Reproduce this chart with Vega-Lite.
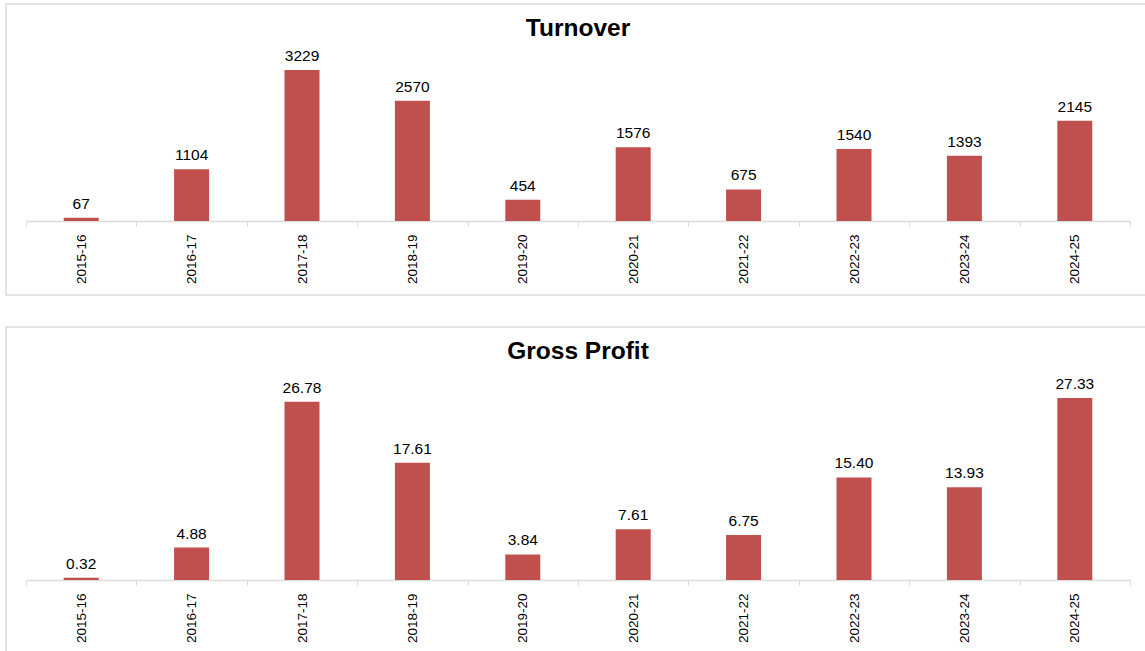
{
"$schema":"https://vega.github.io/schema/vega-lite/v6.json",
"padding":{"left":-2,"top":3,"right":0,"bottom":0},
"background":"white",
"spacing":30,
"config":{"view":{"stroke":"#dcdcdc","strokeWidth":1.5},"concat":{"spacing":30}},
"datasets":{
"turnover":[{"year":"2015-16","value":67},{"year":"2016-17","value":1104},{"year":"2017-18","value":3229},{"year":"2018-19","value":2570},{"year":"2019-20","value":454},{"year":"2020-21","value":1576},{"year":"2021-22","value":675},{"year":"2022-23","value":1540},{"year":"2023-24","value":1393},{"year":"2024-25","value":2145}],
"profit":[{"year":"2015-16","value":0.32},{"year":"2016-17","value":4.88},{"year":"2017-18","value":26.78},{"year":"2018-19","value":17.61},{"year":"2019-20","value":3.84},{"year":"2020-21","value":7.61},{"year":"2021-22","value":6.75},{"year":"2022-23","value":15.40},{"year":"2023-24","value":13.93},{"year":"2024-25","value":27.33}]
},
"vconcat":[
{"width":1144,"height":291,
"title":{"text":"Turnover","font":"Liberation Sans","fontSize":24.5,"fontWeight":"bold","color":"#000","anchor":"middle","frame":"group","baseline":"top","offset":-37},
"data":{"name":"turnover"},
"encoding":{
"x":{"field":"year","type":"nominal","sort":null,"scale":{"type":"band","range":[20,1124],"paddingInner":0,"paddingOuter":0},
"axis":{"title":null,"offset":-74,"labelAngle":270,"labelFont":"Liberation Sans","labelFontSize":13.5,"labelColor":"#000","labelPadding":8,"domainColor":"#dcdcdc","domainWidth":1.5,"tickColor":"#dcdcdc","tickSize":5,"tickBand":"extent","grid":false}},
"y":{"field":"value","type":"quantitative","scale":{"domain":[0,3229],"range":[217,66],"nice":false,"zero":true},"axis":null}
},
"layer":[
{"mark":{"type":"bar","color":"#C0504D","size":35}},
{"mark":{"type":"text","font":"Liberation Sans","fontSize":15.5,"color":"#000","baseline":"bottom","dy":-6},"encoding":{"text":{"field":"value","type":"quantitative","format":"d"}}}
]},
{"width":1144,"height":325,
"title":{"text":"Gross Profit","font":"Liberation Sans","fontSize":24.5,"fontWeight":"bold","color":"#000","anchor":"middle","frame":"group","baseline":"top","offset":-37},
"data":{"name":"profit"},
"encoding":{
"x":{"field":"year","type":"nominal","sort":null,"scale":{"type":"band","range":[20,1124],"paddingInner":0,"paddingOuter":0},
"axis":{"title":null,"offset":-72,"labelAngle":270,"labelFont":"Liberation Sans","labelFontSize":13.5,"labelColor":"#000","labelPadding":8,"domainColor":"#dcdcdc","domainWidth":1.5,"tickColor":"#dcdcdc","tickSize":5,"tickBand":"extent","grid":false}},
"y":{"field":"value","type":"quantitative","scale":{"domain":[0,27.33],"range":[253,71],"nice":false,"zero":true},"axis":null}
},
"layer":[
{"mark":{"type":"bar","color":"#C0504D","size":35}},
{"mark":{"type":"text","font":"Liberation Sans","fontSize":15.5,"color":"#000","baseline":"bottom","dy":-6},"encoding":{"text":{"field":"value","type":"quantitative","format":".2f"}}}
]}
]
}
